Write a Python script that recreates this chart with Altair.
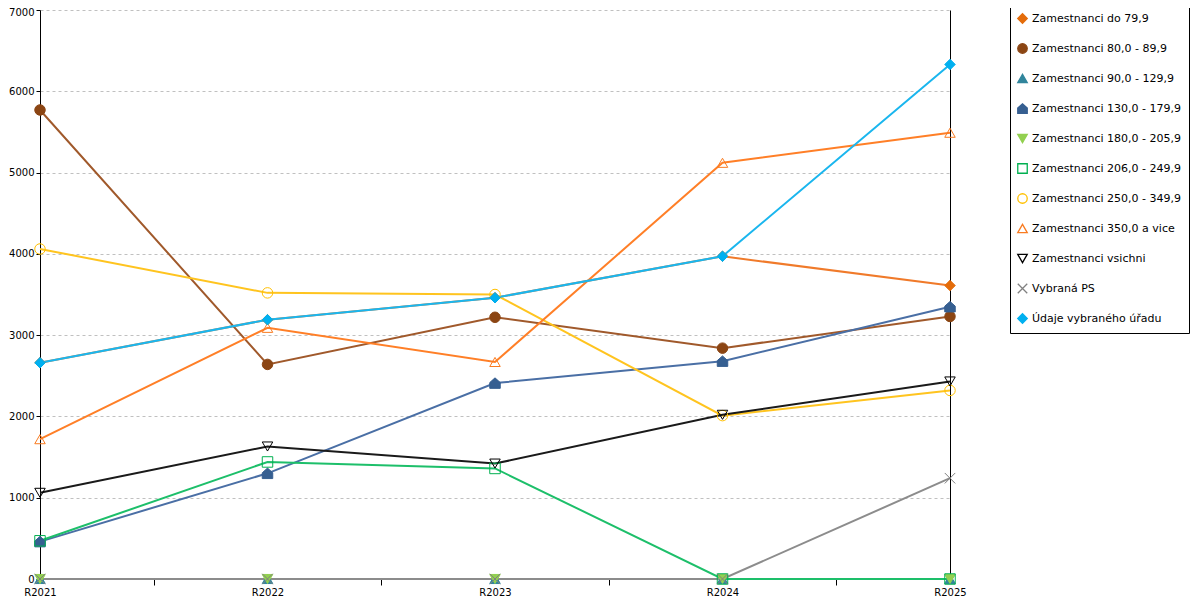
import altair as alt
import pandas as pd

years = ["R2021", "R2022", "R2023", "R2024", "R2025"]

series = [
    "Zamestnanci do 79,9",
    "Zamestnanci 80,0 - 89,9",
    "Zamestnanci 90,0 - 129,9",
    "Zamestnanci 130,0 - 179,9",
    "Zamestnanci 180,0 - 205,9",
    "Zamestnanci 206,0 - 249,9",
    "Zamestnanci 250,0 - 349,9",
    "Zamestnanci 350,0 a vice",
    "Zamestnanci vsichni",
    "Vybraná PS",
    "Údaje vybraného úřadu",
]

v_do79 = [2660, 3190, 3460, 3970, 3610]
v_80_89 = [5770, 2640, 3220, 2840, 3230]
v_90_129 = [0, 0, 0, 0, 0]
v_130_179 = [460, 1300, 2410, 2680, 3350]
v_180_205 = [0, 0, 0, 0, 0]
v_206_249 = [470, 1440, 1360, 0, 0]
v_250_349 = [4060, 3520, 3500, 2010, 2320]
v_350 = [1720, 3090, 2670, 5120, 5490]
v_vsichni = [1060, 1630, 1420, 2020, 2430]
v_ps = [0, 0, 0, 0, 1240]
v_udaje = [2660, 3190, 3460, 3970, 6330]

values = [v_do79, v_80_89, v_90_129, v_130_179, v_180_205, v_206_249,
          v_250_349, v_350, v_vsichni, v_ps, v_udaje]

y_ticks = [0, 1000, 2000, 3000, 4000, 5000, 6000, 7000]

line_colors = ["#F07A2A", "#A0592B", "#31859C", "#4A6FA5", "#92D050", "#1DBF6A",
               "#FFC41F", "#FF7F27", "#1A1A1A", "#8C8C8C", "#1AB6EE"]
marker_colors = ["#E46C0A", "#8B4513", "#31859C", "#365F91", "#92D050", "#00B050",
                 "#FFC000", "#F97B20", "#000000", "#808080", "#00B0F0"]
fill_colors = ["#E46C0A", "#8B4513", "#31859C", "#365F91", "#92D050", "transparent",
               "transparent", "transparent", "transparent", "transparent", "#00B0F0"]
shapes = ["diamond", "circle", "triangle-up", "M-1,1L-1,-0.1L0,-1L1,-0.1L1,1Z",
          "triangle-down", "square", "circle", "triangle-up", "triangle-down",
          "M-1,-1L1,1M-1,1L1,-1", "diamond"]

rows = []
for si, (s, vals) in enumerate(zip(series, values)):
    for i, v in enumerate(vals):
        rows.append({"series": s, "idx": i, "value": v, "order": si})
df = pd.DataFrame(rows)

label_expr = "datum.value % 1 == 0 ? [" + ",".join("'%s'" % y for y in years) + "][datum.value] : ''"

x_enc = alt.X(
    "idx:Q",
    scale=alt.Scale(domain=[0, len(years) - 1], nice=False, zero=False),
    axis=alt.Axis(
        values=[i * 0.5 for i in range(2 * (len(years) - 1) + 1)],
        labelExpr=label_expr,
        labelFlush=False,
        labelOverlap=False,
        title=None,
        grid=False,
        domainColor="black",
        tickColor="black",
        tickSize=6,
        tickOpacity={"condition": {"test": "datum.value % 1 == 0", "value": 0}, "value": 1},
        labelPadding=2,
        labelFont="DejaVu Sans",
        labelFontSize=10,
        labelColor="black",
    ),
)

y_scale = alt.Scale(domain=[y_ticks[0], y_ticks[-1]], nice=False)

lines = alt.Chart(df).mark_line(strokeWidth=2).encode(
    x=x_enc,
    y=alt.Y(
        "value:Q",
        scale=y_scale,
        axis=alt.Axis(
            values=y_ticks,
            format="d",
            title=None,
            grid=True,
            gridColor="#C0C0C0",
            gridDash=[3, 3],
            domainColor="black",
            tickColor="black",
            tickSize=4,
            labelPadding=2,
            labelOffset={"condition": {"test": "datum.value == %d" % y_ticks[-1], "value": 2}, "value": 0},
            labelFont="DejaVu Sans",
            labelFontSize=10,
            labelColor="black",
        ),
    ),
    color=alt.Color("series:N", sort=series, scale=alt.Scale(range=line_colors), legend=None),
    order=alt.Order("idx:Q"),
)

legend = alt.Legend(
    title=None,
    orient="none",
    legendX=970,
    legendY=-4,
    strokeColor="black",
    fillColor="white",
    padding=7,
    rowPadding=15,
    labelFont="DejaVu Sans",
    labelFontSize=11,
    labelColor="black",
    labelLimit=400,
    labelOffset=4,
    symbolSize=90,
    symbolStrokeWidth=1.3,
)

points = alt.Chart(df).mark_point(size=110, strokeWidth=1, opacity=1).encode(
    x=alt.X("idx:Q", scale=alt.Scale(domain=[0, len(years) - 1], nice=False, zero=False)),
    y=alt.Y(
        "value:Q",
        scale=y_scale,
        axis=alt.Axis(orient="right", labels=False, ticks=False, grid=False,
                      domainColor="black", title=None),
    ),
    stroke=alt.Stroke("series:N", scale=alt.Scale(domain=series, range=marker_colors), legend=legend),
    fill=alt.Fill("series:N", scale=alt.Scale(domain=series, range=fill_colors), legend=legend),
    shape=alt.Shape("series:N", scale=alt.Scale(domain=series, range=shapes), legend=legend),
    order=alt.Order("order:Q"),
)

chart = alt.layer(lines, points).resolve_axis(y="independent").properties(
    width=910,
    height=569,
    autosize="none",
    padding={"left": 32, "top": 2, "right": 242, "bottom": 21},
).configure_view(stroke=None)

chart.save("out.html", embed_options={"renderer": "svg", "actions": False})
